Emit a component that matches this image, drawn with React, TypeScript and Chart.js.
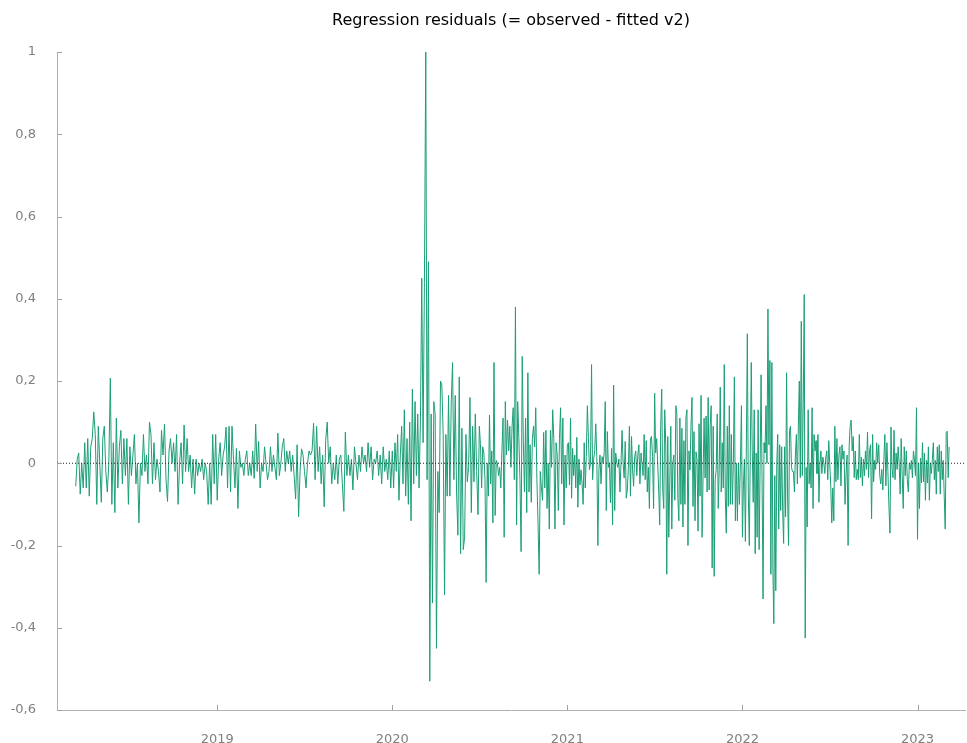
import React, { useEffect, useRef } from "react";
import { Chart, registerables } from "chart.js";

Chart.register(...registerables);

const TITLE = "Regression residuals (= observed - fitted v2)";
const LINE_COLOR = "#1b9e77";
const yTickValues = [-0.6, -0.4, -0.2, 0, 0.2, 0.4, 0.6, 0.8, 1];
const yearTicks = [2019, 2020, 2021, 2022, 2023];
const axisRange = ["2018-02-01", "2023-04-10"];
// boundaries of the sub-periods below (each period's values are evenly spaced in time)
const periodBounds = [
  "2018-03-12", "2019-01-01", "2019-07-02", "2020-01-01", "2020-07-01", "2021-01-01",
  "2021-07-02", "2022-01-01", "2022-07-02", "2023-01-01", "2023-03-08",
];

const res2018 = [
  -0.056, 0.01, 0.025, -0.075, 0.0, -0.06, 0.05, -0.06, 0.06, -0.08,
  0.04, 0.06, 0.125, 0.07, -0.1, 0.09, 0.0, -0.095, 0.06, 0.09,
  -0.02, -0.07, 0.0, 0.207, -0.1, 0.05, -0.12, 0.11, -0.06, 0.04,
  0.08, -0.05, 0.06, -0.03, 0.06, -0.1, 0.04, -0.03, 0.02, 0.07,
  -0.05, 0.0, -0.145, 0.0, -0.03, 0.07, -0.02, 0.02, -0.05, 0.1,
  0.07, -0.05, 0.05, -0.04, 0.01, -0.02, -0.07, 0.08, 0.02, 0.095,
  -0.04, -0.093, 0.03, 0.06, 0.0, 0.05, -0.02, 0.07, -0.1, 0.0,
  0.05, -0.05, 0.093, -0.02, 0.06, -0.02, 0.02, -0.06, 0.01, -0.075,
  0.01, -0.03, 0.0, -0.02, 0.01, -0.04, 0.0, -0.02, -0.1, 0.0,
  -0.1, 0.07, -0.05, 0.07,
];
const res2019a = [
  -0.09, 0.01, 0.05, -0.03, 0.02, 0.04, 0.088, -0.06, 0.09, -0.07,
  0.09, 0.01, -0.06, 0.036, -0.11, 0.03, -0.01, 0.0, -0.03, 0.01,
  0.03, -0.03, 0.0, -0.03, 0.03, -0.037, 0.095, -0.02, 0.053, -0.06,
  0.0, -0.02, 0.04, 0.0, -0.04, -0.02, 0.04, -0.02, 0.02, -0.01,
  -0.04, 0.073, -0.03, 0.0, 0.04, 0.06, -0.02, 0.03, 0.0, 0.03,
  -0.02, 0.02, -0.03, -0.087, 0.045, -0.13, -0.02, 0.035, 0.02,
];
const res2019b = [
  -0.02, -0.06, 0.0, 0.03, 0.02, 0.03, 0.097, -0.04, 0.09, -0.02,
  0.04, -0.05, 0.02, -0.106, 0.056, 0.1, 0.0, 0.04, -0.05, 0.0,
  -0.04, 0.02, -0.05, 0.01, 0.02, -0.05, -0.117, 0.076, -0.03, 0.02,
  -0.03, 0.01, -0.065, 0.04, 0.0, -0.04, 0.02, -0.02, 0.04, 0.0,
  0.02, -0.02, 0.05, -0.01, 0.04, -0.04, 0.01, 0.0, 0.03, -0.03,
  0.02, -0.05, 0.04, -0.02, 0.01, -0.04, 0.03, -0.06,
];
const res2020a = [
  0.03, -0.06, 0.05, -0.02, 0.07, -0.09, 0.02, 0.09, -0.05, 0.13,
  -0.08, 0.06, -0.1, 0.1, -0.14, 0.18, -0.05, 0.15, -0.03, 0.12,
  -0.06, 0.1, 0.45, 0.05, 0.44, 1.0, -0.04, 0.49, -0.53, 0.12,
  -0.34, 0.15, 0.12, -0.45, -0.02, -0.12, 0.2, 0.19, 0.07, -0.32,
  0.07, -0.08, 0.165, -0.08, 0.146, 0.245, -0.04, 0.165, -0.07, -0.175,
  0.21, -0.22, 0.085, -0.21, -0.18, 0.07, -0.045, -0.01, 0.16, -0.12,
  0.09, -0.045, 0.12, -0.02, -0.125,
];
const res2020b = [
  0.09, 0.045, -0.06, 0.04, 0.025, -0.04, -0.29, 0.0, -0.08, 0.117,
  -0.05, 0.03, -0.145, 0.245, -0.127, 0.007, 0.0, -0.03, -0.01, -0.06,
  0.03, 0.11, -0.18, 0.15, 0.02, 0.105, 0.03, 0.09, -0.01, 0.09,
  0.135, -0.04, 0.38, -0.15, 0.15, 0.063, -0.04, -0.215, 0.26, 0.05,
  -0.07, 0.11, -0.12, 0.22, -0.07, 0.045, -0.095, 0.06, 0.09, 0.04,
  0.135, -0.04, -0.145, -0.27, -0.02, -0.06, -0.09, 0.075, -0.06, 0.08,
  -0.11, 0.0, -0.16, 0.08, -0.01, 0.13, 0.06, -0.16, 0.05, 0.02,
  -0.115, 0.06, 0.135, -0.05, 0.11, -0.15, 0.02, -0.06,
];
const res2021a = [
  0.045, 0.05, -0.053, 0.11, -0.085, 0.036, -0.03, 0.02, -0.06, 0.063,
  -0.107, 0.01, -0.053, -0.016, -0.05, -0.1, 0.05, -0.06, 0.016, 0.14,
  0.063, -0.016, 0.0, 0.24, -0.04, 0.01, 0.03, 0.096, 0.016, -0.2,
  -0.016, 0.02, -0.05, 0.016, 0.0, 0.025, 0.15, -0.115, 0.077, -0.01,
  0.0, -0.096, 0.036, -0.15, 0.19, -0.115, 0.025, 0.0, -0.01, 0.01,
  -0.07, 0.0, 0.08, 0.0, -0.036, 0.053, -0.085, -0.065, -0.01, 0.09,
  -0.08, 0.065, -0.016, -0.056, 0.016, 0.03, -0.03, 0.02, 0.045, -0.05,
  0.025, 0.0, -0.03, 0.07, -0.04, 0.055, -0.07, -0.01, -0.11, 0.06,
  0.065, 0.016, -0.11,
];
const res2021b = [
  0.17, 0.025, 0.06, 0.0, -0.065, -0.15, 0.09, 0.18, -0.065, -0.11,
  0.13, 0.045, -0.27, 0.065, -0.18, -0.045, 0.09, -0.16, 0.0, 0.02,
  -0.09, 0.14, 0.12, -0.085, -0.14, 0.11, -0.1, 0.085, -0.155, 0.055,
  -0.1, 0.11, 0.13, -0.2, 0.03, -0.016, 0.09, 0.16, -0.105, 0.077,
  -0.14, 0.028, 0.008, -0.165, 0.096, -0.08, 0.165, -0.18, -0.03, 0.11,
  -0.036, 0.115, -0.07, 0.16, -0.065, 0.09, 0.14, -0.255, 0.09, -0.275,
  -0.04, -0.015, 0.12, -0.11, -0.015, 0.185, -0.07, 0.05, -0.06, 0.24,
  -0.08, -0.17, 0.09, -0.105, 0.14, -0.1, 0.07, -0.1, 0.0, 0.21,
  -0.14, 0.0, -0.14, 0.0, -0.1, 0.0, 0.14,
];
const res2022a = [
  -0.18, -0.055, 0.01, -0.19, 0.045, 0.315, -0.075, -0.2, 0.025, 0.245,
  0.03, -0.095, 0.13, -0.22, 0.025, -0.18, 0.13, -0.21, -0.015, 0.215,
  -0.04, -0.33, 0.05, 0.025, 0.14, 0.0, 0.375, 0.045, 0.25, -0.27,
  0.245, -0.25, -0.39, -0.03, -0.31, 0.0, 0.07, -0.16, 0.045, -0.115,
  0.04, -0.115, -0.195, 0.04, -0.13, 0.22, -0.075, -0.2, 0.08, 0.09,
  -0.01, -0.02, -0.02, -0.07, 0.02, 0.07, -0.05, 0.09, 0.2, -0.035,
  0.345, -0.03, 0.145, 0.41, -0.425, -0.01, -0.155, 0.13, -0.05, 0.0,
  -0.06, 0.135, -0.11, 0.07, 0.03, 0.055, -0.025, 0.07, -0.095, 0.0,
  0.03, -0.025, 0.015, 0.0, -0.025, 0.015, 0.03, -0.04, 0.055,
];
const res2022b = [
  0.0, -0.055, -0.145, -0.06, -0.14, 0.09, -0.045, 0.06, -0.04, 0.02,
  0.04, -0.055, 0.045, 0.01, 0.03, -0.1, -0.025, 0.02, -0.2, 0.04,
  0.09, 0.105, 0.03, 0.065, -0.035, 0.03, -0.04, -0.015, -0.04, 0.07,
  -0.035, 0.015, -0.055, 0.01, -0.03, 0.03, -0.015, 0.076, -0.035, 0.03,
  0.045, -0.135, 0.07, -0.045, 0.007, -0.015, 0.05, 0.0, 0.045, -0.03,
  -0.05, -0.015, -0.065, 0.007, 0.07, -0.055, 0.05, -0.02, -0.105, -0.17,
  0.088, -0.012, -0.035, 0.08, -0.04, 0.025, -0.015, 0.04, 0.0, -0.075,
  0.06, -0.03, -0.11, 0.04, -0.03, 0.03, -0.04, -0.07, 0.0, -0.015,
  0.007, -0.035, 0.03, 0.01, -0.03, 0.135,
];
const res2023 = [
  -0.185, 0.0, -0.11, 0.012, -0.048, 0.05, -0.045, 0.025, -0.09, 0.007,
  -0.048, 0.04, -0.09, 0.0, -0.025, 0.01, 0.05, -0.04, 0.007, -0.075,
  0.04, -0.02, 0.045, -0.075, 0.03, -0.04, 0.007, -0.08, -0.16, 0.075,
  0.078, -0.035, 0.04,
];

const periods = [
  res2018, res2019a, res2019b, res2020a, res2020b, res2021a,
  res2021b, res2022a, res2022b, res2023,
];

function decimalYear(s: string): number {
  const [y, m, d] = s.split("-").map(Number);
  const start = Date.UTC(y, 0, 1);
  const end = Date.UTC(y + 1, 0, 1);
  return y + (Date.UTC(y, m - 1, d) - start) / (end - start);
}

function buildPoints() {
  const pts: { x: number; y: number }[] = [];
  periods.forEach((vals, p) => {
    const a = decimalYear(periodBounds[p]);
    const b = decimalYear(periodBounds[p + 1]);
    const last = p === periods.length - 1;
    const div = last ? vals.length - 1 : vals.length;
    vals.forEach((v, k) => pts.push({ x: a + ((b - a) * k) / div, y: v }));
  });
  return pts;
}

const fmtComma = (v: number) => {
  const r = Math.round(v * 10) / 10;
  return (r === 0 ? "0" : r.toFixed(1)).replace(".", ",").replace(/^(-?\d+),0$/, "$1");
};

const inwardTicks = {
  id: "inwardTicks",
  afterDatasetsDraw(chart: any) {
    const { ctx, chartArea, scales } = chart;
    ctx.save();
    ctx.strokeStyle = "#a0a0a0";
    ctx.lineWidth = 1;
    ctx.beginPath();
    yTickValues.forEach((v) => {
      const py = Math.round(scales.y.getPixelForValue(v)) + 0.5;
      ctx.moveTo(chartArea.left, py);
      ctx.lineTo(chartArea.left + 5, py);
    });
    yearTicks.forEach((v) => {
      const px = Math.round(scales.x.getPixelForValue(v)) + 0.5;
      ctx.moveTo(px, chartArea.bottom);
      ctx.lineTo(px, chartArea.bottom - 5);
    });
    ctx.stroke();
    ctx.restore();
  },
};

export default function App() {
  const ref = useRef<HTMLCanvasElement | null>(null);
  useEffect(() => {
    if (!ref.current) return;
    const xMin = decimalYear(axisRange[0]);
    const xMax = decimalYear(axisRange[1]);
    const font = { family: "'DejaVu Sans', Verdana, sans-serif", size: 13 };
    const chart = new Chart(ref.current, {
      type: "line",
      data: {
        datasets: [
          {
            label: "zero",
            data: [
              { x: xMin, y: 0 },
              { x: xMax, y: 0 },
            ],
            borderColor: "#222222",
            borderWidth: 1,
            borderDash: [1, 2],
            pointRadius: 0,
          },
          {
            label: "residual",
            data: buildPoints(),
            borderColor: LINE_COLOR,
            borderWidth: 1,
            pointRadius: 0,
            tension: 0,
          },
        ],
      },
      options: {
        animation: false,
        responsive: true,
        maintainAspectRatio: false,
        events: [],
        layout: { padding: { top: 0, right: 2, left: 0, bottom: 0 } },
        plugins: {
          legend: { display: false },
          tooltip: { enabled: false },
          title: {
            display: true,
            text: TITLE,
            fullSize: false,
            color: "#000000",
            font: { ...font, size: 16, weight: "normal" },
            padding: { top: 11, bottom: 21.8 },
          },
        },
        scales: {
          x: {
            type: "linear",
            min: xMin,
            max: xMax,
            afterBuildTicks: (s: any) => {
              s.ticks = yearTicks.map((v) => ({ value: v }));
            },
            afterFit: (s: any) => {
              s.height = 33;
            },
            grid: { display: false },
            border: { display: true, color: "#b0b0b0", width: 1 },
            ticks: {
              color: "#808080",
              font,
              padding: 14,
              maxRotation: 0,
              autoSkip: false,
              callback: (v: any) => String(v),
            },
          },
          y: {
            type: "linear",
            min: -0.6,
            max: 1,
            afterBuildTicks: (s: any) => {
              s.ticks = yTickValues.map((v) => ({ value: v }));
            },
            afterFit: (s: any) => {
              s.width = 57;
            },
            grid: { display: false },
            border: { display: true, color: "#b0b0b0", width: 1 },
            ticks: {
              color: "#808080",
              font,
              padding: 13,
              autoSkip: false,
              callback: (v: any) => fmtComma(Number(v)),
            },
          },
        },
      },
      plugins: [inwardTicks],
    } as any);
    return () => chart.destroy();
  }, []);
  return (
    <div style={{ position: "absolute", left: 0, top: 0, width: 967, height: 743, background: "#ffffff" }}>
      <canvas ref={ref} />
    </div>
  );
}
